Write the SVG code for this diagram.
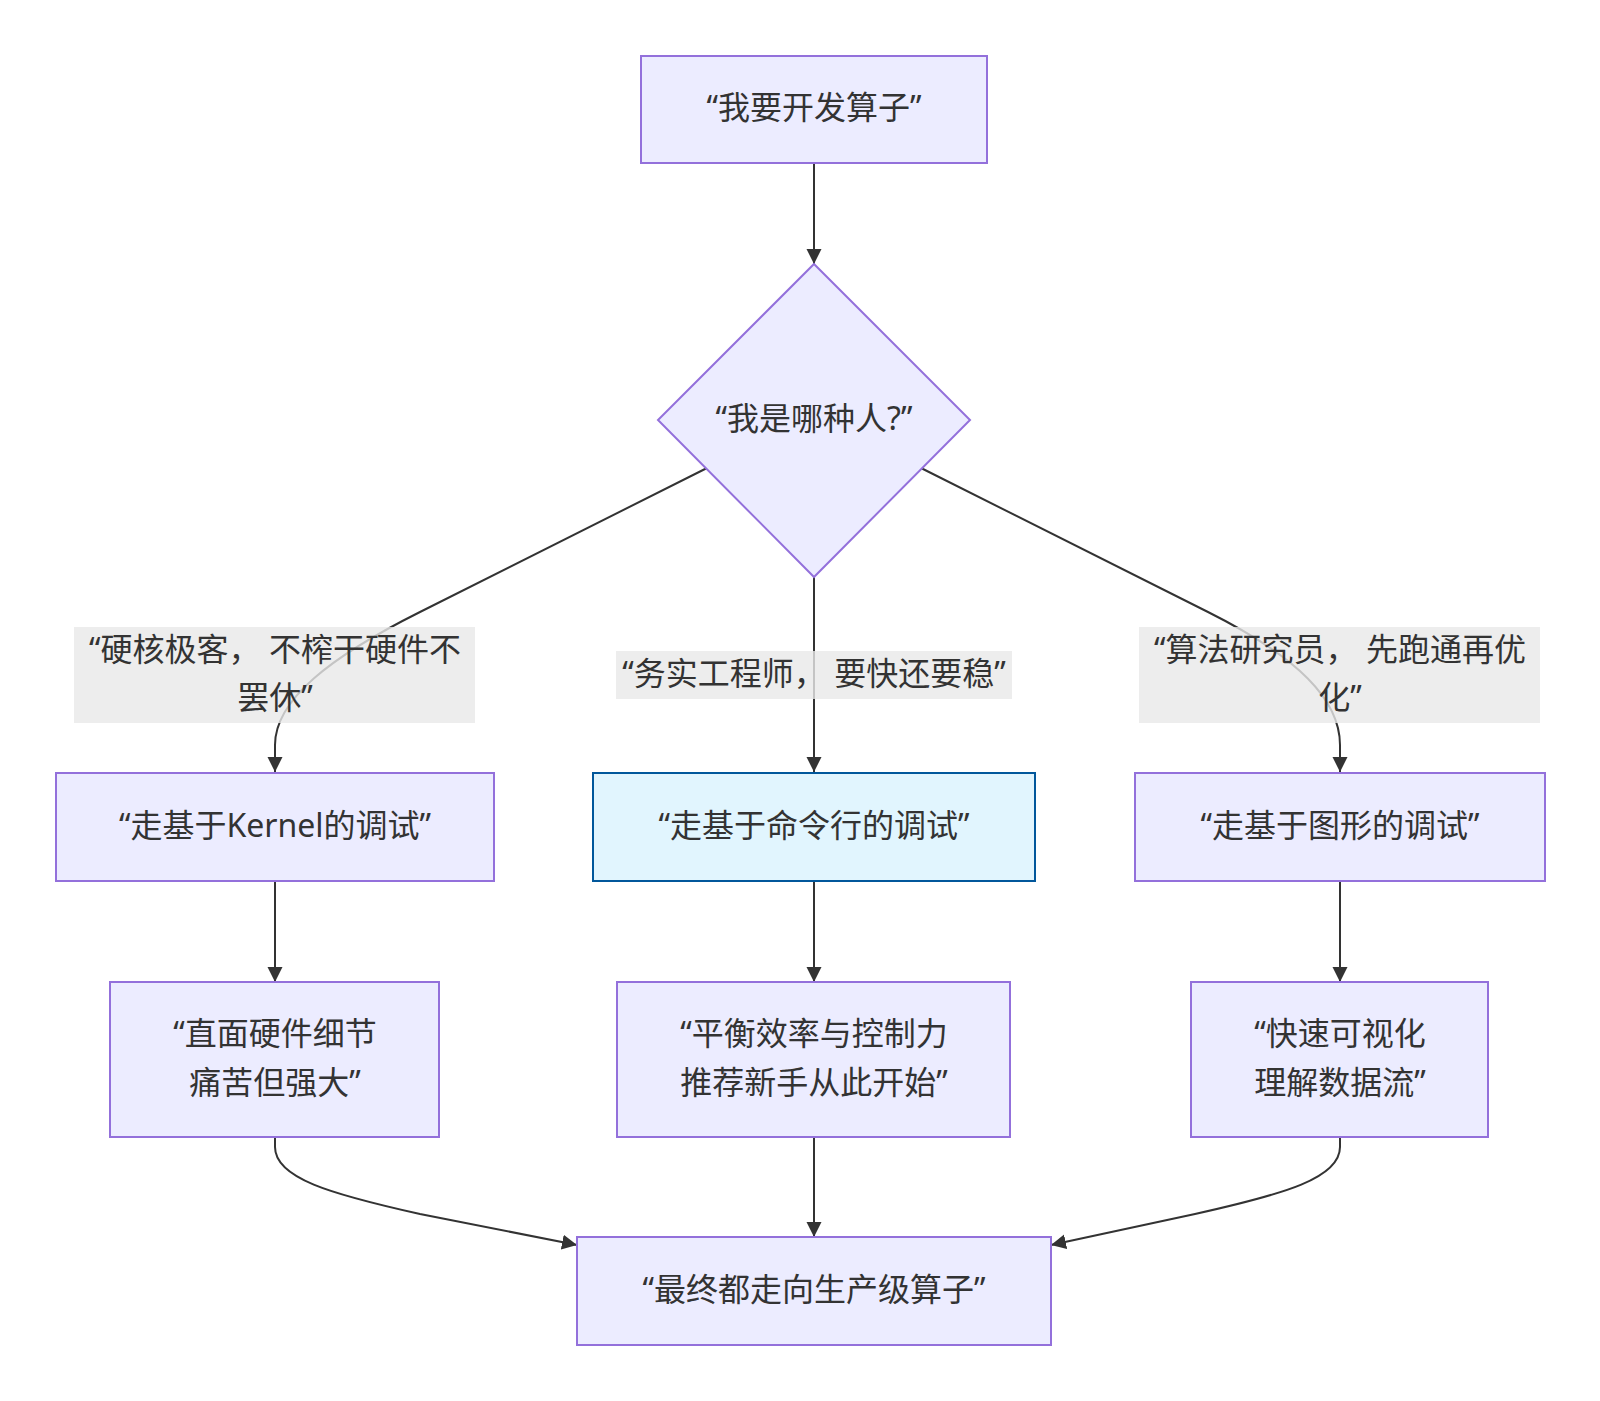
<svg xmlns="http://www.w3.org/2000/svg" width="1600" height="1401" viewBox="0 0 1600 1401">
<style>
.node{fill:#ECECFF;stroke:#9370DB;stroke-width:2}
.blue{fill:#E1F5FE;stroke:#01579B;stroke-width:2}
.edge{fill:none;stroke:#333333;stroke-width:2}
.lbl{fill:rgba(232,232,232,0.8);stroke:none}
text{font-family:"Noto Sans","Noto Sans CJK SC",sans-serif;font-size:32px;fill:#333333;text-anchor:middle;dominant-baseline:central}
</style>
<defs>
<marker id="arr" viewBox="0 0 10 10" refX="10" refY="5" markerUnits="userSpaceOnUse" markerWidth="15" markerHeight="16" orient="auto">
<path d="M0,0 L10,5 L0,10 z" fill="#333333"/>
</marker>
</defs>
<rect width="1600" height="1401" fill="#ffffff"/>
<g id="connectors">
<path class="edge" d="M814,163 L814,264" marker-end="url(#arr)"/>
<path class="edge" d="M707,468 L420,612 C330,657 275,700 275,745 L275,772" marker-end="url(#arr)"/>
<path class="edge" d="M814,577 L814,772" marker-end="url(#arr)"/>
<path class="edge" d="M921,468 L1208,612 C1298,657 1340,700 1340,745 L1340,772" marker-end="url(#arr)"/>
<path class="edge" d="M275,881 L275,982" marker-end="url(#arr)"/>
<path class="edge" d="M814,881 L814,982" marker-end="url(#arr)"/>
<path class="edge" d="M1340,881 L1340,982" marker-end="url(#arr)"/>
<path class="edge" d="M275,1137 L275,1147 C275,1178 330,1194 420,1214 L577,1245" marker-end="url(#arr)"/>
<path class="edge" d="M814,1137 L814,1237" marker-end="url(#arr)"/>
<path class="edge" d="M1340,1137 L1340,1147 C1340,1178 1285,1194 1195,1214 L1051,1245" marker-end="url(#arr)"/>
</g>
<g id="edge-labels">
<g id="label-hardcore">
<rect class="lbl" x="74" y="627" width="401" height="96"/>
<text x="275" y="648">“硬核极客， 不榨干硬件不</text>
<text x="275" y="696">罢休”</text>
</g>
<g id="label-engineer">
<rect class="lbl" x="616" y="651" width="396" height="48"/>
<text x="814" y="672">“务实工程师， 要快还要稳”</text>
</g>
<g id="label-researcher">
<rect class="lbl" x="1139" y="627" width="401" height="96"/>
<text x="1340" y="648">“算法研究员， 先跑通再优</text>
<text x="1340" y="696">化”</text>
</g>
</g>
<g id="start">
<rect class="node" x="641" y="56" width="346" height="107"/>
<text x="814" y="106">“我要开发算子”</text>
</g>
<g id="decision">
<polygon class="node" points="814,264 970,420 814,577 658,420"/>
<text x="814" y="417">“我是哪种人?”</text>
</g>
<g id="kernel">
<rect class="node" x="56" y="773" width="438" height="108"/>
<text x="275" y="824">“走基于Kernel的调试”</text>
</g>
<g id="cli">
<rect class="blue" x="593" y="773" width="442" height="108"/>
<text x="814" y="824">“走基于命令行的调试”</text>
</g>
<g id="gui">
<rect class="node" x="1135" y="773" width="410" height="108"/>
<text x="1340" y="824">“走基于图形的调试”</text>
</g>
<g id="kernel-detail">
<rect class="node" x="110" y="982" width="329" height="155"/>
<text x="275" y="1032">“直面硬件细节</text>
<text x="275" y="1081">痛苦但强大”</text>
</g>
<g id="cli-detail">
<rect class="node" x="617" y="982" width="393" height="155"/>
<text x="814" y="1032">“平衡效率与控制力</text>
<text x="814" y="1081">推荐新手从此开始”</text>
</g>
<g id="gui-detail">
<rect class="node" x="1191" y="982" width="297" height="155"/>
<text x="1340" y="1032">“快速可视化</text>
<text x="1340" y="1081">理解数据流”</text>
</g>
<g id="final">
<rect class="node" x="577" y="1237" width="474" height="108"/>
<text x="814" y="1288">“最终都走向生产级算子”</text>
</g>
</svg>
